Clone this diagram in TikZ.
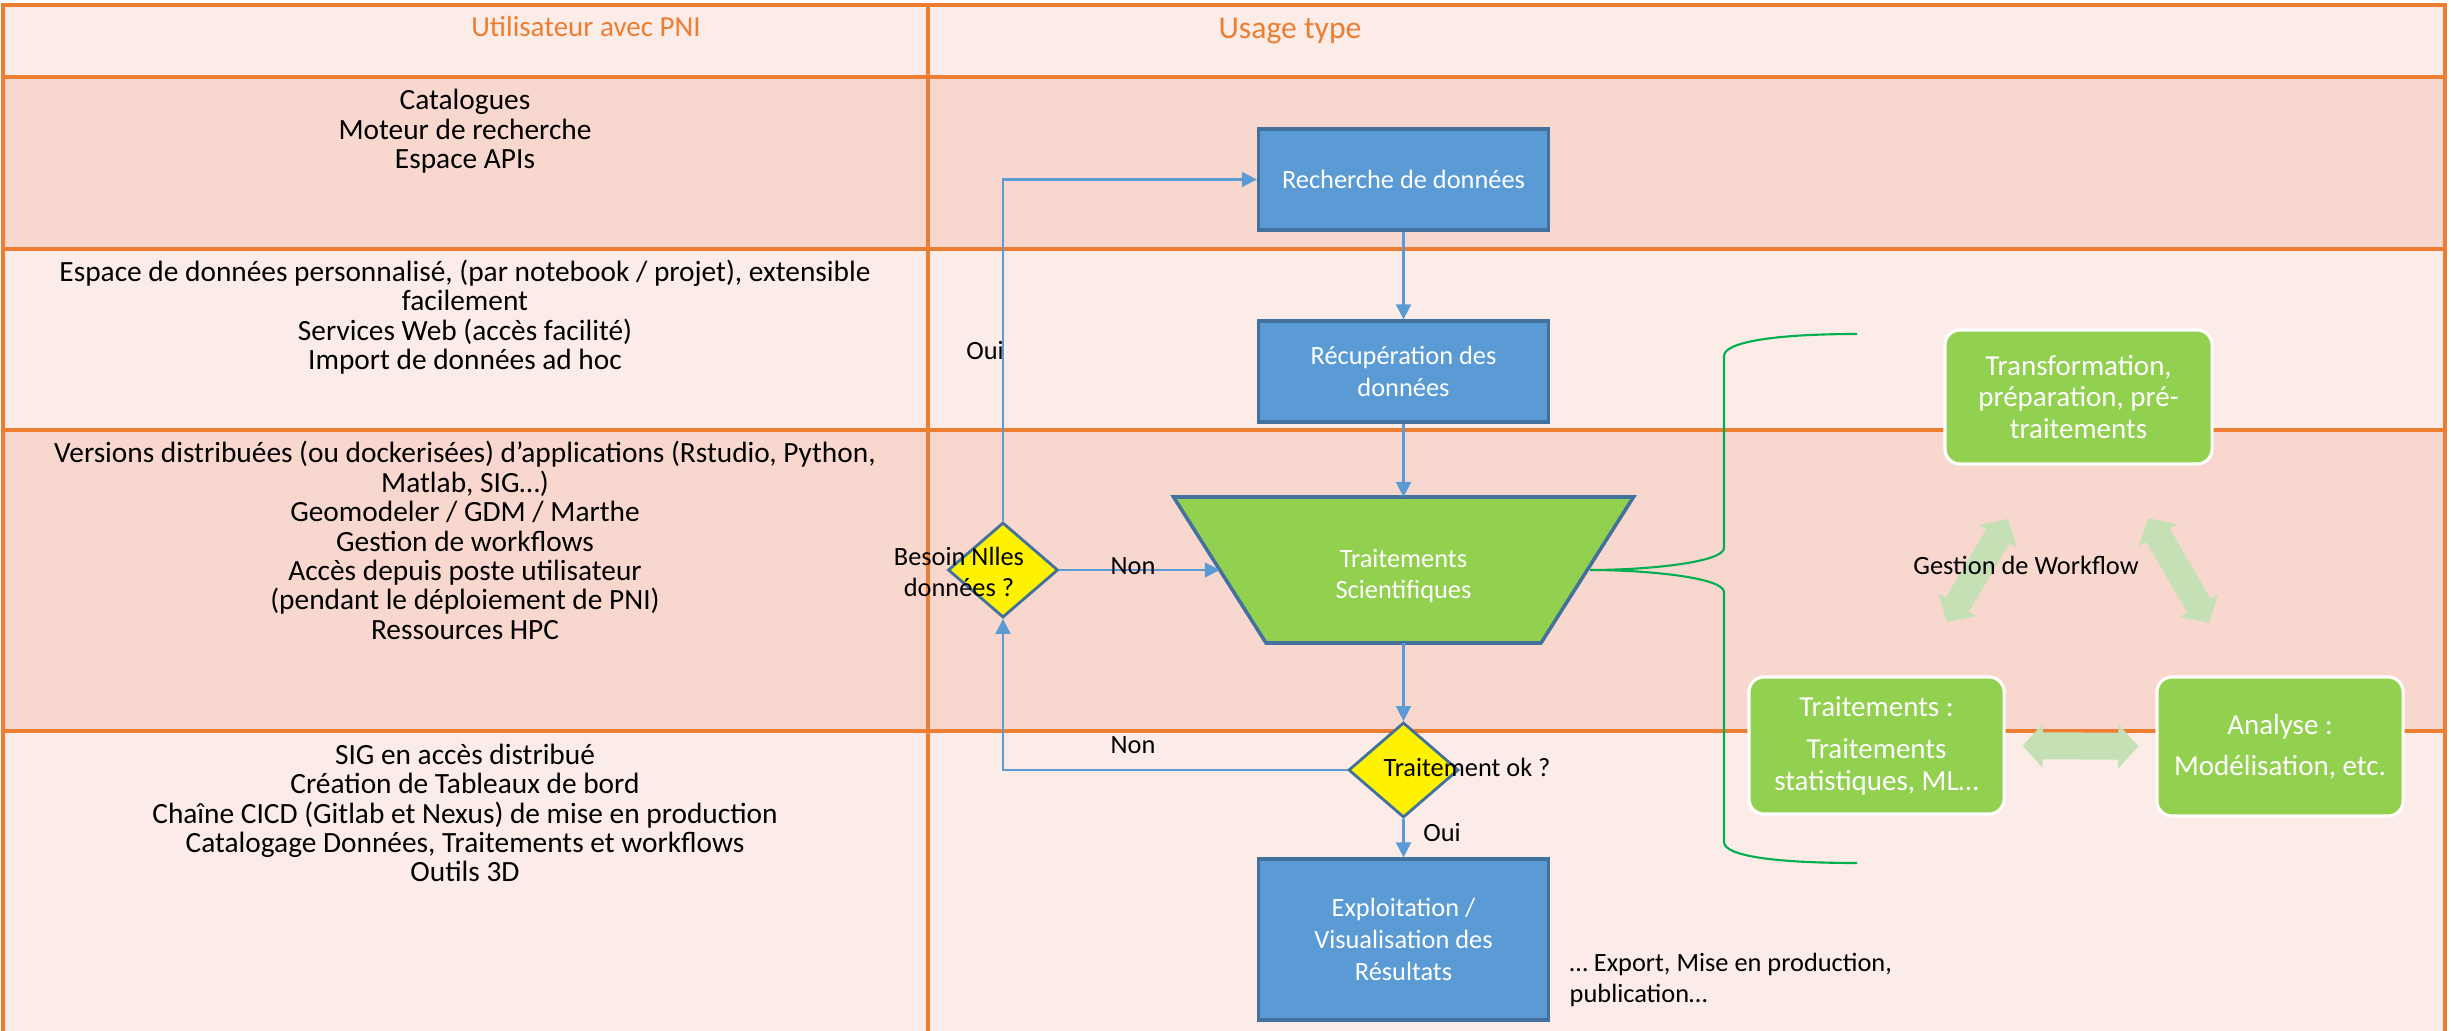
\documentclass[tikz,border=0pt]{standalone}
\usepackage{fontspec}
\setmainfont{Carlito}
\usetikzlibrary{arrows.meta,shapes.geometric}
\definecolor{tline}{HTML}{ED7D31}
\definecolor{rowlight}{HTML}{FBECE8}
\definecolor{rowdark}{HTML}{F8D8CE}
\definecolor{bluefill}{HTML}{5B9BD5}
\definecolor{blueedge}{HTML}{41719C}
\definecolor{greenfill}{HTML}{92D050}
\definecolor{bracegreen}{HTML}{00B050}
\definecolor{wfgreen}{HTML}{C5E0B4}
\definecolor{conncol}{HTML}{5B9BD5}
\begin{document}
\begin{tikzpicture}[x=0.01cm,y=-0.01cm,
  tabline/.style={draw=tline, line width=0.9pt},
  coltext/.style={align=center, inner sep=0, font=\fontsize{8.35pt}{8.37pt}\selectfont},
  hdr/.style={text=tline, inner sep=0},
  bluebox/.style={draw=blueedge, line width=0.9pt, fill=bluefill, text=white, align=center,
    inner sep=0, minimum width=2.9cm, font=\fontsize{7.5pt}{9pt}\selectfont},
  dia/.style={shape=diamond, draw=blueedge, line width=0.8pt, fill=yellow, inner sep=0,
    minimum width=1.1cm, minimum height=0.95cm},
  trapdraw/.style={draw=blueedge, line width=1pt, fill=greenfill, line join=miter},
  flowtext/.style={inner sep=0, align=center, font=\fontsize{7.5pt}{9pt}\selectfont},
  conn/.style={draw=conncol, line width=0.6pt, -{Triangle[width=0.15cm,length=0.15cm]}},
  gbox/.style={rounded corners=0.15cm, fill=greenfill, draw=white, line width=0.9pt,
    text=white, align=center, inner sep=0, font=\fontsize{8.25pt}{8.9pt}\selectfont},
  wf/.style={draw=wfgreen, line width=0.27cm,
    {Triangle[width=0.43cm,length=0.2cm]}-{Triangle[width=0.43cm,length=0.2cm]}},
  bracestyle/.style={draw=bracegreen, line width=0.6pt}]

\useasboundingbox (0,0) rectangle (2451,1031);
\fill[white] (0,0) rectangle (2451,1031);

% table rows
\fill[rowlight] (3,5) rectangle (2445,77);
\fill[rowdark] (3,77) rectangle (2445,249);
\fill[rowlight] (3,249) rectangle (2445,430);
\fill[rowdark] (3,430) rectangle (2445,731);
\fill[rowlight] (3,731) rectangle (2445,1040);
\draw[tabline] (3,1040) -- (3,5) -- (2445,5) -- (2445,1040);
\draw[tabline] (3,77) -- (2445,77);
\draw[tabline] (3,249) -- (2445,249);
\draw[tabline] (3,430) -- (2445,430);
\draw[tabline] (3,731) -- (2445,731);
\draw[tabline] (928,5) -- (928,1040);

% headers
\node[hdr, anchor=base, font=\fontsize{8.25pt}{9pt}\selectfont] (h1) at (586,37) {Utilisateur avec PNI};
\node[hdr, anchor=base, font=\fontsize{9pt}{10pt}\selectfont] (h2) at (1290,39) {Usage type};

% left column
\node[coltext] (r1) at (465,131.5) {Catalogues\\Moteur de recherche\\Espace APIs};
\node[coltext] (r2) at (465,317) {Espace de données personnalisé, (par notebook / projet), extensible\\facilement\\Services Web (accès facilité)\\Import de données ad hoc};
\node[coltext] (r3) at (465,540.5) {Versions distribuées (ou dockerisées) d’applications (Rstudio, Python,\\Matlab, SIG…)\\Geomodeler / GDM / Marthe\\Gestion de workflows\\Accès depuis poste utilisateur\\(pendant le déploiement de PNI)\\Ressources HPC};
\node[coltext] (r4) at (465,813) {SIG en accès distribué\\Création de Tableaux de bord\\Chaîne CICD (Gitlab et Nexus) de mise en production\\Catalogage Données, Traitements et workflows\\Outils 3D};

% flowchart
\node[bluebox, minimum height=1.01cm] (rech) at (1403.5,179.5) {Recherche de données};
\node[bluebox, minimum height=1.01cm] (recup) at (1403.5,371.5) {Récupération des\\données};
\draw[trapdraw] (1173.5,497) -- (1633.5,497) -- (1541,643) -- (1266,643) -- cycle;
\coordinate (trapT) at (1403.5,497);
\coordinate (trapB) at (1403.5,643);
\coordinate (trapL) at (1219.75,570);
\node[flowtext, text=white] (trap) at (1403.5,576) {Traitements\\Scientifiques};
\node[dia] (besoin) at (1003,570) {};
\node[flowtext] (besointxt) at (959,572) {Besoin Nlles\\données ?};
\node[dia] (ok) at (1403.5,770) {};
\node[flowtext, anchor=base] (oktxt) at (1467,777) {Traitement ok ?};
\node[bluebox, minimum height=1.61cm] (expl) at (1403.5,939.5) {Exploitation /\\Visualisation des\\Résultats};
\node[flowtext, align=left, anchor=west] (export) at (1569,980) {… Export, Mise en production,\\publication…};

\draw[conn] (rech) -- (recup);
\draw[conn] (recup) -- (trapT);
\draw[conn] (trapB) -- (ok);
\draw[conn] (ok) -- (expl);
\draw[conn] (besoin) -- (trapL);
\draw[conn] (ok.west) -| (besoin.south);
\draw[conn] (besoin.north) |- (rech.west);

\node[flowtext, anchor=base] (non1) at (1133,575) {Non};
\node[flowtext, anchor=base] (non2) at (1133,754) {Non};
\node[flowtext, anchor=base] (oui1) at (985,360) {Oui};
\node[flowtext, anchor=base] (oui2) at (1442,842) {Oui};

% brace
\draw[bracestyle] (1857,334) .. controls (1775,334) and (1724,342) .. (1724,356)
  -- (1724,548) .. controls (1724,562) and (1650,570) .. (1590,570)
  .. controls (1650,570) and (1724,578) .. (1724,592)
  -- (1724,842) .. controls (1724,856) and (1775,863) .. (1857,863);

% workflow boxes
\node[gbox, minimum width=2.67cm, minimum height=1.34cm] (transf) at (2078.5,397) {Transformation,\\préparation, pré-\\traitements};
\node[gbox, minimum width=2.55cm, minimum height=1.37cm] (trt) at (1876.5,745.5) {Traitements :\\[3.2pt]Traitements\\statistiques, ML…};
\node[gbox, minimum width=2.46cm, minimum height=1.39cm] (ana) at (2280,746.5) {Analyse :\\[2.8pt]Modélisation, etc.};

\coordinate (wfb1) at (1947,622);
\coordinate (wfb2) at (2008,519);
\coordinate (wfc1) at (2148,518);
\coordinate (wfc2) at (2209,623);
\draw[wf, shorten <=0.17cm, shorten >=0.17cm] (trt.east) -- (ana.west);
\draw[wf] (wfb1) -- (wfb2);
\draw[wf] (wfc1) -- (wfc2);
\node[flowtext, anchor=base] (gw) at (2026,575) {Gestion de Workflow};

\end{tikzpicture}
\end{document}
